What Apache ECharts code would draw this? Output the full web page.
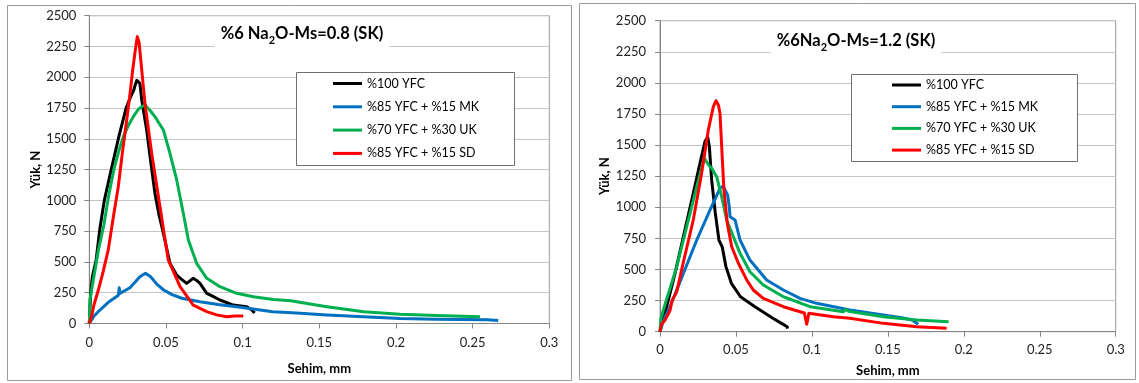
<!DOCTYPE html>
<html>
<head>
<meta charset="utf-8">
<script src="https://cdn.jsdelivr.net/npm/echarts@6/dist/echarts.min.js"></script>
<style>
html,body{margin:0;padding:0;background:#fff;}
#c{width:1139px;height:383px;}
</style>
</head>
<body>
<div id="c"></div>
<script>
// ---- data ----
const seriesNames = ['%100 YFC', '%85 YFC + %15 MK', '%70 YFC + %30 UK', '%85 YFC + %15 SD'];
const seriesColors = ['#000000', '#0070C0', '#00B050', '#FF0000'];
const xTicks = [0, 0.05, 0.1, 0.15, 0.2, 0.25, 0.3];
const yTicks = [0, 250, 500, 750, 1000, 1250, 1500, 1750, 2000, 2250, 2500];
const leftTitle = ['%6 Na', '2', 'O-Ms=0.8 (SK)'];
const rightTitle = ['%6Na', '2', 'O-Ms=1.2 (SK)'];
const xName = 'Sehim, mm';
const yName = 'Yük, N';

// left chart (Ms=0.8)
const leftBlack = [[0,0],[0.0005,150],[0.001,260],[0.002,380],[0.0045,520],[0.007,780],[0.0098,1000],[0.0143,1250],[0.0195,1530],[0.024,1750],[0.0276,1860],[0.029,1895],[0.030,1940],[0.031,1975],[0.032,1985],[0.033,1950],[0.0342,1815],[0.0374,1572],[0.040,1320],[0.0428,1057],[0.0455,880],[0.0483,733],[0.0526,489],[0.057,394],[0.060,360],[0.0635,326],[0.066,350],[0.0678,367],[0.070,350],[0.0722,326],[0.0766,245],[0.080,225],[0.0852,191],[0.0939,150],[0.100,140],[0.1027,136],[0.106,110],[0.1078,85]];
const leftBlue = [[0,0],[0.003,60],[0.0058,96],[0.0129,177],[0.019,230],[0.0195,290],[0.020,245],[0.0265,290],[0.033,380],[0.0366,408],[0.040,380],[0.044,320],[0.0485,272],[0.054,235],[0.0603,205],[0.0722,177],[0.084,155],[0.096,136],[0.108,115],[0.1196,96],[0.135,85],[0.155,69],[0.179,55],[0.2026,41],[0.226,35],[0.2596,30],[0.2667,25]];
const leftGreen = [[0,0],[0.0005,200],[0.0026,353],[0.006,600],[0.0095,800],[0.0125,1030],[0.016,1250],[0.019,1390],[0.0222,1517],[0.0255,1610],[0.0287,1680],[0.032,1740],[0.0342,1761],[0.0363,1775],[0.039,1740],[0.0428,1680],[0.0483,1572],[0.0526,1382],[0.057,1166],[0.0613,895],[0.0646,678],[0.070,489],[0.0766,367],[0.0852,299],[0.0961,245],[0.107,218],[0.12,195],[0.1315,185],[0.143,160],[0.155,136],[0.167,115],[0.179,96],[0.2026,75],[0.2264,65],[0.2548,55]];
const leftRed = [[0,0],[0.0015,60],[0.003,150],[0.0059,272],[0.009,420],[0.0124,600],[0.0155,850],[0.0189,1111],[0.0215,1380],[0.0244,1653],[0.0265,1860],[0.0283,2059],[0.030,2220],[0.0313,2330],[0.0325,2280],[0.0363,1788],[0.0407,1382],[0.0461,949],[0.0515,516],[0.0592,299],[0.0678,150],[0.0766,96],[0.083,70],[0.0896,55],[0.095,60],[0.1004,60]];

// right chart (Ms=1.2)
const rightBlack = [[0,0],[0.0015,100],[0.0044,201],[0.0099,469],[0.0154,764],[0.0219,1113],[0.0263,1354],[0.0296,1528],[0.0314,1565],[0.0325,1487],[0.034,1220],[0.0364,954],[0.0388,737],[0.041,680],[0.0434,523],[0.047,389],[0.053,281],[0.0625,201],[0.0743,108],[0.080,67],[0.0837,40],[0.084,25]];
const rightBlue = [[0,0],[0.002,80],[0.0066,201],[0.0154,469],[0.0242,737],[0.0329,978],[0.0395,1153],[0.0417,1171],[0.0428,1139],[0.0445,1100],[0.0456,1005],[0.0461,924],[0.0494,898],[0.0527,737],[0.0592,576],[0.0702,416],[0.0812,335],[0.0922,268],[0.1031,228],[0.125,174],[0.147,134],[0.160,110],[0.166,94],[0.170,60]];
const rightGreen = [[0,0],[0.0005,100],[0.0022,174],[0.011,523],[0.0176,844],[0.0242,1166],[0.0275,1320],[0.0292,1394],[0.032,1340],[0.034,1313],[0.0373,1246],[0.0406,1085],[0.0439,898],[0.0483,764],[0.0527,630],[0.0592,482],[0.068,375],[0.0812,281],[0.0988,201],[0.1207,161],[0.122,180],[0.124,165],[0.147,121],[0.169,94],[0.19,80]];
const rightRed = [[0,0],[0.001,60],[0.0033,94],[0.0066,170],[0.0079,250],[0.011,320],[0.0154,560],[0.0219,898],[0.0274,1273],[0.0318,1621],[0.0351,1809],[0.0369,1857],[0.0385,1820],[0.0395,1756],[0.0406,1487],[0.0421,1139],[0.0443,871],[0.0472,683],[0.0516,550],[0.0571,416],[0.0614,335],[0.068,268],[0.0812,201],[0.095,150],[0.0966,60],[0.098,148],[0.1141,121],[0.125,108],[0.147,67],[0.169,40],[0.1887,27]];

const leftData = [leftBlack, leftBlue, leftGreen, leftRed];
const rightData = [rightBlack, rightBlue, rightGreen, rightRed];

// ---- chart ----
const FONT = 'Lato, "Open Sans", sans-serif';
const chart = echarts.init(document.getElementById('c'), null, {renderer: 'canvas'});

function xAxisCfg(gi, nameGap, labelMargin) {
  return {
    type: 'value', gridIndex: gi, min: xTicks[0], max: xTicks[xTicks.length - 1], interval: 0.05,
    name: xName, nameLocation: 'middle', nameGap: nameGap,
    nameTextStyle: {fontFamily: FONT, fontSize: 13, fontWeight: 'bold', color: '#000'},
    axisLine: {show: true, lineStyle: {color: '#868686', width: 1}},
    axisTick: {show: true, length: 5, inside: false, lineStyle: {color: '#868686'}},
    axisLabel: {fontFamily: FONT, fontSize: 13, color: '#222', margin: labelMargin,
      formatter: v => String(+v.toFixed(2))},
    splitLine: {show: false}
  };
}
function yAxisCfg(gi, nameGap, labelMargin) {
  return {
    type: 'value', gridIndex: gi, min: yTicks[0], max: yTicks[yTicks.length - 1], interval: 250,
    name: yName, nameLocation: 'middle', nameGap: nameGap, nameRotate: 90,
    nameTextStyle: {fontFamily: FONT, fontSize: 13, fontWeight: 'bold', color: '#000'},
    axisLine: {show: true, lineStyle: {color: '#868686', width: 1}},
    axisTick: {show: true, length: 5, inside: false, lineStyle: {color: '#868686'}},
    axisLabel: {fontFamily: FONT, fontSize: 13, color: '#222', margin: labelMargin,
      formatter: v => String(v)},
    splitLine: {show: true, lineStyle: {color: '#c4c4c4', width: 1}}
  };
}
function titleCfg(parts, cx, top) {
  return {
    text: '{n|' + parts[0] + '}{s|' + parts[1] + '}{n|' + parts[2] + '}',
    left: cx, top: top, textAlign: 'center',
    backgroundColor: '#fff', padding: [2, 6, 2, 6], z: 8,
    textStyle: {
      fontFamily: FONT, fontSize: 16.5, fontWeight: 'bold', color: '#000',
      rich: {
        n: {fontFamily: FONT, fontSize: 16.5, fontWeight: 'bold', color: '#000', verticalAlign: 'bottom', padding: [0, 0, 4, 0]},
        s: {fontFamily: FONT, fontSize: 11, fontWeight: 'bold', color: '#000', verticalAlign: 'bottom'}
      }
    }
  };
}
function legendCfg(left, top, gap) {
  return {
    data: seriesNames, orient: 'vertical', left: left, top: top, padding: 0,
    itemGap: gap, itemWidth: 29, itemHeight: 3, icon: 'rect', z: 12,
    selectedMode: false,
    textStyle: {fontFamily: FONT, fontSize: 12.5, color: '#000', lineHeight: 14}
  };
}

const series = [];
[leftData, rightData].forEach((set, gi) => {
  set.forEach((d, i) => {
    series.push({
      name: seriesNames[i], type: 'line', xAxisIndex: gi, yAxisIndex: gi,
      data: d, showSymbol: false, symbol: 'none', smooth: false,
      lineStyle: {color: seriesColors[i], width: 3, join: 'round'},
      itemStyle: {color: seriesColors[i]},
      z: 2 + i, animation: false
    });
  });
});

chart.setOption({
  animation: false,
  backgroundColor: '#fff',
  title: [titleCfg(leftTitle, 296, 23), titleCfg(rightTitle, 850, 30)],
  legend: [legendCfg(333, 76.5, 9.3), legendCfg(892, 78, 7.7)],
  grid: [
    {left: 89.3, top: 15.7, width: 460, height: 307.8, show: true, borderColor: '#9a9a9a', borderWidth: 1, backgroundColor: 'transparent'},
    {left: 660, top: 20.7, width: 455.7, height: 311, show: true, borderColor: '#9a9a9a', borderWidth: 1, backgroundColor: 'transparent'}
  ],
  xAxis: [xAxisCfg(0, 39, 13), xAxisCfg(1, 33, 11.5)],
  yAxis: [yAxisCfg(0, 47, 13), yAxisCfg(1, 48.5, 14)],
  graphic: [
    {type: 'rect', z: -10, silent: true, shape: {x: 7.5, y: 5.5, width: 564, height: 375}, style: {fill: 'none', stroke: '#9a9a9a', lineWidth: 1}},
    {type: 'rect', z: -10, silent: true, shape: {x: 579.5, y: 3.5, width: 556, height: 376}, style: {fill: 'none', stroke: '#9a9a9a', lineWidth: 1}},
    {type: 'rect', z: 10, silent: true, shape: {x: 296.5, y: 72.5, width: 218, height: 93}, style: {fill: '#fff', stroke: '#707070', lineWidth: 1}},
    {type: 'rect', z: 10, silent: true, shape: {x: 851.5, y: 74.5, width: 226, height: 87}, style: {fill: '#fff', stroke: '#707070', lineWidth: 1}}
  ],
  series: series
});
</script>
</body>
</html>
